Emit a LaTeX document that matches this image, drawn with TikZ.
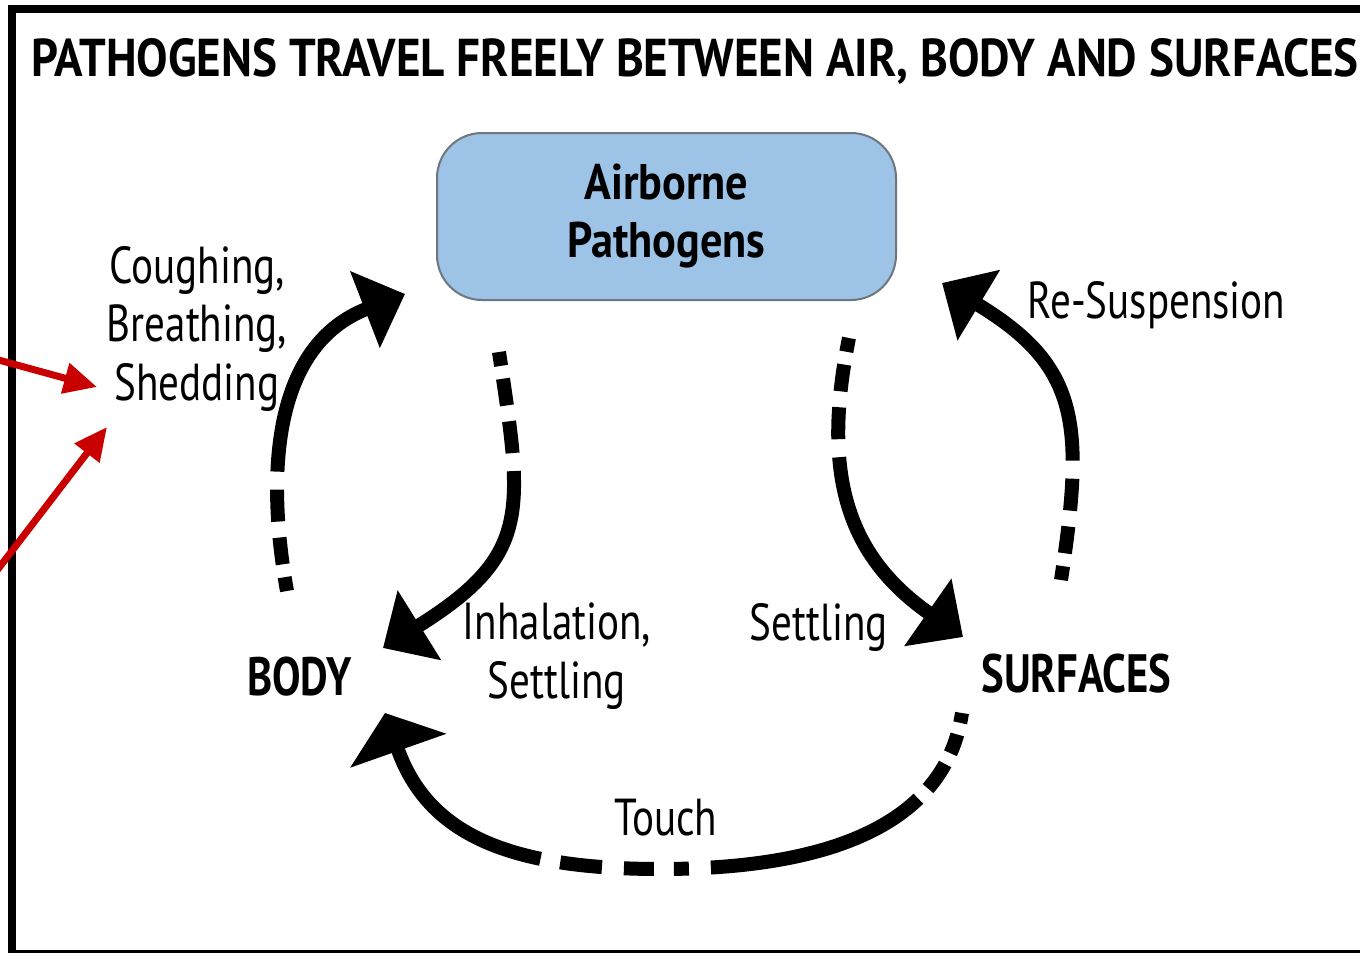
\documentclass[tikz,border=0pt]{standalone}
\usepackage{graphicx}
\usepackage{fontspec}
\setmainfont{PT Sans}[FakeStretch=0.79]
\newfontfamily\boxfont{PT Sans}[FakeStretch=0.885]
\usetikzlibrary{arrows.meta}
\definecolor{boxfill}{RGB}{157,195,230}
\definecolor{boxline}{RGB}{110,118,128}
\definecolor{redarrow}{RGB}{200,0,0}
\tikzset{
  lbl/.style={inner sep=0pt, font=\fontsize{52}{58.5}\selectfont, align=center},
  blbl/.style={inner sep=0pt, font=\fontsize{54}{60}\selectfont\bfseries},
  flow/.style={line width=14pt, draw=black, -{Triangle[length=43pt,width=80pt]}},
  fade/.style={dash pattern=on 14pt off 13pt on 27pt off 16pt on 32pt off 18pt on 2000pt off 10pt},
  redarr/.style={line width=7pt, draw=redarrow, -{Triangle[length=33pt,width=30pt]}},
}
\begin{document}
\begin{tikzpicture}[x=1pt,y=-1pt]
\useasboundingbox (0,0) rectangle (1360,953);
\fill[white] (0,0) rectangle (1360,953);
% frame
\draw[line width=8pt] (1380,9) -- (12,9) -- (12,953.5) -- (1380,953.5);
% title
\node[anchor=base west, inner sep=0pt] (title) at (31,76)
  {\resizebox{1327pt}{38pt}{\bfseries PATHOGENS TRAVEL FREELY BETWEEN AIR, BODY AND SURFACES}};
% airborne box
\node[draw=boxline, fill=boxfill, rounded corners=45pt, line width=2pt,
      minimum width=459pt, minimum height=167pt, inner sep=0pt, align=center,
      font=\fontsize{50}{58}\boxfont\bfseries] (air) at (666.5,216.5) {Airborne\\Pathogens};
% labels (base anchor = baseline of the last line)
\node[lbl, anchor=base] (cbs) at (197,400) {Coughing,\\Breathing,\\Shedding};
\node[lbl, anchor=base] (resus) at (1156.5,318) {Re-Suspension};
\node[lbl, anchor=base] (inh) at (557,698) {Inhalation,\\Settling};
\node[lbl, anchor=base] (settle) at (818.5,640) {Settling};
\node[blbl, anchor=base] (body) at (299.5,695) {BODY};
\node[blbl, anchor=base] (surf) at (1076.5,692) {SURFACES};
\node[lbl, anchor=base] (touch) at (666,835) {Touch};
% connector end points
\coordinate (b2a) at (287,591);   \coordinate (b2aT) at (405,294);
\coordinate (a2b) at (499,352);   \coordinate (a2bT) at (383,648);
\coordinate (a2s) at (849,338);   \coordinate (a2sT) at (963,637);
\coordinate (s2a) at (1061,580);  \coordinate (s2aT) at (942,283);
\coordinate (s2b) at (962,713);   \coordinate (s2bT) at (385,713);
% flows
\draw[flow, fade] (b2a) .. controls (266,475) and (272,345.5) .. (b2aT);
\draw[flow, fade] (a2b) .. controls (523,512) and (532,555) .. (a2bT);
\draw[flow, fade] (a2s) .. controls (821.2,474.1) and (846.8,555.7) .. (a2sT);
\draw[flow, fade] (s2a) .. controls (1084.7,423.8) and (1079.6,365.9) .. (s2aT);
\draw[line width=14pt, -{Triangle[length=40pt,width=100pt]},
      dash pattern=on 10pt off 12pt on 20pt off 12pt on 30pt off 14pt on 223pt off 22pt on 15pt off 20pt on 30pt off 22pt on 42pt off 20pt on 2000pt off 10pt]
  (s2b) .. controls (947,813) and (850,869) .. (660,869)
        .. controls (510,869) and (428,835) .. (s2bT);
% red pointers
\coordinate (r1) at (-5,359);
\coordinate (r1T) at (97,387);
\coordinate (r2) at (-5,573);
\coordinate (r2T) at (107,427);
\draw[redarr] (r1) -- (r1T);
\draw[redarr] (r2) -- (r2T);
\end{tikzpicture}
\end{document}
